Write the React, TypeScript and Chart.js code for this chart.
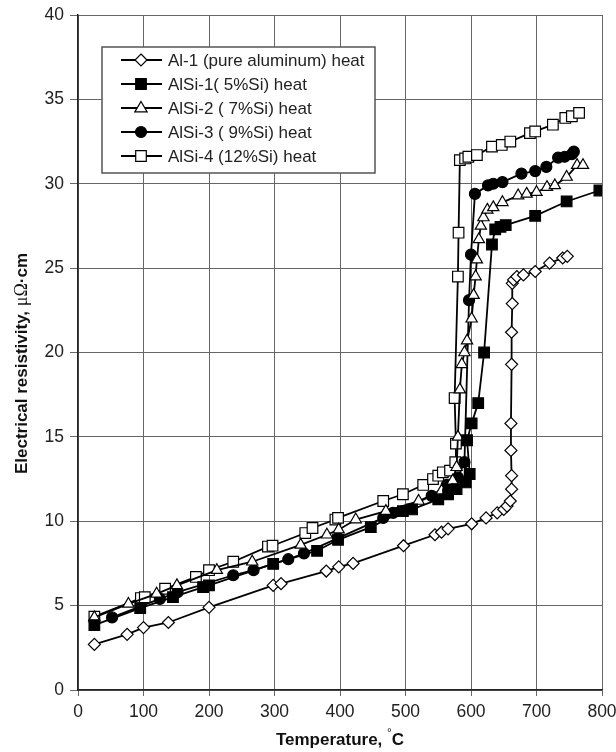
import React, { useEffect, useRef } from "react";
import { Chart, registerables } from "chart.js";

Chart.register(...registerables);

// ---------- data ----------
const seriesNames = [
  "Al-1 (pure aluminum) heat",
  "AlSi-1( 5%Si) heat",
  "AlSi-2 ( 7%Si) heat",
  "AlSi-3 ( 9%Si) heat",
  "AlSi-4 (12%Si) heat",
];

const al1T = [25, 75, 100, 138, 200, 298, 310, 379, 398, 420, 497, 545, 555, 565, 601, 623, 640, 650, 655, 660, 662, 662, 661, 661, 662, 662, 663, 663, 665, 670, 680, 698, 720, 740, 747];
const al1R = [2.7, 3.3, 3.7, 4.0, 4.9, 6.2, 6.3, 7.05, 7.3, 7.5, 8.55, 9.2, 9.35, 9.55, 9.85, 10.2, 10.5, 10.7, 10.9, 11.2, 11.9, 12.7, 14.2, 15.8, 19.3, 21.2, 22.9, 24.1, 24.3, 24.5, 24.6, 24.8, 25.3, 25.6, 25.7];

const alsi1T = [25, 95, 145, 191, 200, 298, 365, 397, 447, 496, 510, 550, 565, 578, 592, 598, 594, 601, 611, 620, 632, 637, 645, 653, 698, 746, 796];
const alsi1R = [3.85, 4.85, 5.5, 6.1, 6.2, 7.47, 8.25, 8.9, 9.65, 10.6, 10.7, 11.3, 11.6, 11.9, 12.3, 12.8, 14.8, 15.8, 17.0, 20.0, 26.4, 27.3, 27.45, 27.55, 28.1, 28.95, 29.6];

const alsi2T = [25, 77, 120, 151, 212, 266, 340, 380, 398, 424, 470, 520, 555, 572, 578, 580, 583, 586, 590, 594, 601, 604, 607, 609, 612, 615, 619, 625, 634, 648, 672, 685, 700, 716, 728, 746, 762, 771];
const alsi2R = [4.3, 5.1, 5.7, 6.2, 7.1, 7.6, 8.6, 9.2, 9.5, 10.1, 10.6, 11.2, 11.8, 12.4, 13.2, 15.0, 17.8, 19.3, 20.0, 20.7, 22.0, 23.4, 24.5, 25.5, 26.7, 27.5, 28.0, 28.45, 28.6, 28.9, 29.3, 29.4, 29.5, 29.8, 29.9, 30.4, 31.1, 31.1];

const alsi3T = [52, 125, 152, 237, 268, 321, 345, 397, 466, 481, 540, 563, 580, 590, 597, 600, 606, 626, 634, 648, 677, 698, 715, 733, 743, 754, 757];
const alsi3R = [4.3, 5.4, 5.8, 6.8, 7.1, 7.75, 8.1, 9.0, 10.2, 10.5, 11.5, 12.15, 12.6, 13.5, 23.1, 25.8, 29.4, 29.9, 30.0, 30.1, 30.6, 30.75, 31.0, 31.55, 31.6, 31.75, 31.9];

const alsi4T = [25, 96, 102, 133, 180, 200, 237, 290, 297, 347, 358, 393, 397, 466, 496, 527, 542, 550, 557, 568, 576, 577, 575, 580, 581, 583, 591, 596, 609, 632, 647, 660, 690, 698, 725, 744, 754, 765];
const alsi4R = [4.35, 5.45, 5.5, 6.0, 6.7, 7.1, 7.6, 8.5, 8.55, 9.3, 9.6, 10.1, 10.2, 11.2, 11.6, 12.15, 12.5, 12.7, 12.9, 13.0, 13.5, 14.6, 17.3, 24.5, 27.1, 31.4, 31.5, 31.6, 31.7, 32.2, 32.3, 32.5, 33.0, 33.1, 33.5, 33.9, 34.0, 34.2];

const xTicks = [0, 100, 200, 300, 400, 500, 600, 700, 800];
const yTicks = [0, 5, 10, 15, 20, 25, 30, 35, 40];

const xTitleMain = "Temperature, ";
const xTitleUnit = "C";
const yTitleMain = "Electrical resistivity, ";
const yTitleGreek = "\u03bc\u03a9";
const yTitleUnit = "\u00b7cm";

// ---------- styles ----------
const markerStyles = [
  { shape: "diamond", fill: "#ffffff", radius: 6 },
  { shape: "square", fill: "#000000", radius: 7.5 },
  { shape: "triangle", fill: "#ffffff", radius: 6.5 },
  { shape: "circle", fill: "#000000", radius: 5.5 },
  { shape: "square", fill: "#ffffff", radius: 7.5 },
];

const toPoints = (t: number[], r: number[]) => t.map((x, i) => ({ x, y: r[i] }));

const pointStyleFor = (shape: string) =>
  shape === "diamond" ? "rectRot" : shape === "square" ? "rect" : shape === "triangle" ? "triangle" : "circle";

const SANS = "'Liberation Sans', Arial, Helvetica, sans-serif";

function drawMarker(ctx: CanvasRenderingContext2D, shape: string, x: number, y: number, fill: string) {
  ctx.save();
  ctx.fillStyle = fill;
  ctx.strokeStyle = "#000";
  ctx.lineWidth = 1.2;
  ctx.beginPath();
  if (shape === "diamond") {
    const r = 6;
    ctx.moveTo(x, y - r);
    ctx.lineTo(x + r, y);
    ctx.lineTo(x, y + r);
    ctx.lineTo(x - r, y);
    ctx.closePath();
  } else if (shape === "square") {
    const s = 5.3;
    ctx.rect(x - s, y - s, 2 * s, 2 * s);
  } else if (shape === "triangle") {
    const r = 6.5;
    ctx.moveTo(x, y - r);
    ctx.lineTo(x + r * 0.95, y + r * 0.6);
    ctx.lineTo(x - r * 0.95, y + r * 0.6);
    ctx.closePath();
  } else {
    ctx.arc(x, y, 5.5, 0, Math.PI * 2);
  }
  ctx.fill();
  ctx.stroke();
  ctx.restore();
}

const annotPlugin = {
  id: "annot",
  afterDraw(chart: any) {
    const ctx: CanvasRenderingContext2D = chart.ctx;
    const area = chart.chartArea;
    ctx.save();
    // legend box
    const bx = 102, by = 47, bw = 273, bh = 126;
    ctx.fillStyle = "#fff";
    ctx.fillRect(bx, by, bw, bh);
    ctx.strokeStyle = "#555";
    ctx.lineWidth = 1.5;
    ctx.strokeRect(bx, by, bw, bh);
    const rowY = [60, 84, 108, 132, 156];
    seriesNames.forEach((name, i) => {
      const y = rowY[i];
      ctx.strokeStyle = "#000";
      ctx.lineWidth = 1.8;
      ctx.beginPath();
      ctx.moveTo(121, y);
      ctx.lineTo(162, y);
      ctx.stroke();
      drawMarker(ctx, markerStyles[i].shape, 141, y, markerStyles[i].fill);
      ctx.fillStyle = "#222";
      ctx.font = `17px ${SANS}`;
      ctx.textAlign = "left";
      ctx.textBaseline = "middle";
      ctx.fillText(name, 168, y + 1);
    });

    // x title
    ctx.fillStyle = "#111";
    ctx.textBaseline = "alphabetic";
    ctx.font = `bold 17px ${SANS}`;
    const w1 = ctx.measureText(xTitleMain).width;
    ctx.font = `12px ${SANS}`;
    const wDeg = ctx.measureText("\u00b0").width;
    ctx.font = `bold 17px ${SANS}`;
    const w2 = ctx.measureText(xTitleUnit).width;
    const total = w1 + wDeg + w2;
    const cx = (area.left + area.right) / 2;
    let xx = cx - total / 2;
    const ty = 745;
    ctx.textAlign = "left";
    ctx.fillText(xTitleMain, xx, ty);
    xx += w1;
    ctx.font = `12px ${SANS}`;
    ctx.fillText("\u00b0", xx, ty - 8);
    xx += wDeg;
    ctx.font = `bold 17px ${SANS}`;
    ctx.fillText(xTitleUnit, xx, ty);

    // y title (rotated)
    ctx.save();
    const cy = (area.top + area.bottom) / 2 + 11;
    ctx.translate(27, cy);
    ctx.rotate(-Math.PI / 2);
    ctx.textAlign = "left";
    ctx.font = `bold 17px ${SANS}`;
    const a = ctx.measureText(yTitleMain).width;
    ctx.font = `18px 'Liberation Serif', 'Times New Roman', serif`;
    const b = ctx.measureText(yTitleGreek).width;
    ctx.font = `bold 17px ${SANS}`;
    const c = ctx.measureText(yTitleUnit).width;
    let px = -(a + b + c) / 2;
    ctx.fillText(yTitleMain, px, 0);
    px += a;
    ctx.font = `18px 'Liberation Serif', 'Times New Roman', serif`;
    ctx.fillText(yTitleGreek, px, 0);
    px += b;
    ctx.font = `bold 17px ${SANS}`;
    ctx.fillText(yTitleUnit, px, 0);
    ctx.restore();

    ctx.restore();
  },
};

export default function App() {
  const ref = useRef<HTMLCanvasElement | null>(null);

  useEffect(() => {
    if (!ref.current) return;
    const seriesData = [
      toPoints(al1T, al1R),
      toPoints(alsi1T, alsi1R),
      toPoints(alsi2T, alsi2R),
      toPoints(alsi3T, alsi3R),
      toPoints(alsi4T, alsi4R),
    ];
    const chart = new Chart(ref.current, {
      type: "line",
      data: {
        datasets: seriesData.map((d, i) => ({
          label: seriesNames[i],
          data: d,
          borderColor: "#000",
          borderWidth: 1.8,
          tension: 0,
          pointStyle: pointStyleFor(markerStyles[i].shape) as any,
          pointRadius: markerStyles[i].radius,
          pointBackgroundColor: markerStyles[i].fill,
          pointBorderColor: "#000",
          pointBorderWidth: 1.2,
          fill: false,
        })),
      },
      options: {
        responsive: false,
        animation: false,
        events: [],
        layout: { padding: { left: 0, top: 15, right: 14, bottom: 0 } },
        plugins: { legend: { display: false }, tooltip: { enabled: false } },
        scales: {
          x: {
            type: "linear",
            min: 0,
            max: 800,
            afterBuildTicks: (s: any) => {
              s.ticks = xTicks.map((v) => ({ value: v }));
            },
            afterFit: (s: any) => {
              s.height = 62;
              s.paddingLeft = 0;
              s.paddingRight = 0;
            },
            ticks: {
              color: "#222",
              font: { size: 17.5, family: SANS },
              padding: 6,
              maxRotation: 0,
            },
            grid: { color: "#666", lineWidth: 1, tickLength: 6, drawTicks: true },
            border: { color: "#222", width: 1.5 },
          },
          y: {
            type: "linear",
            min: 0,
            max: 40,
            afterBuildTicks: (s: any) => {
              s.ticks = yTicks.map((v) => ({ value: v }));
            },
            afterFit: (s: any) => {
              s.width = 78;
              s.paddingTop = 0;
              s.paddingBottom = 0;
            },
            ticks: {
              color: "#222",
              font: { size: 17.5, family: SANS },
              padding: 6,
            },
            grid: { color: "#666", lineWidth: 1, tickLength: 8, drawTicks: true },
            border: { color: "#222", width: 1.5 },
          },
        },
      },
      plugins: [annotPlugin],
    });
    return () => chart.destroy();
  }, []);

  return (
    <div style={{ position: "absolute", left: 0, top: 0, width: 616, height: 752, background: "#fff" }}>
      <canvas ref={ref} width={616} height={752} style={{ display: "block" }} />
    </div>
  );
}
